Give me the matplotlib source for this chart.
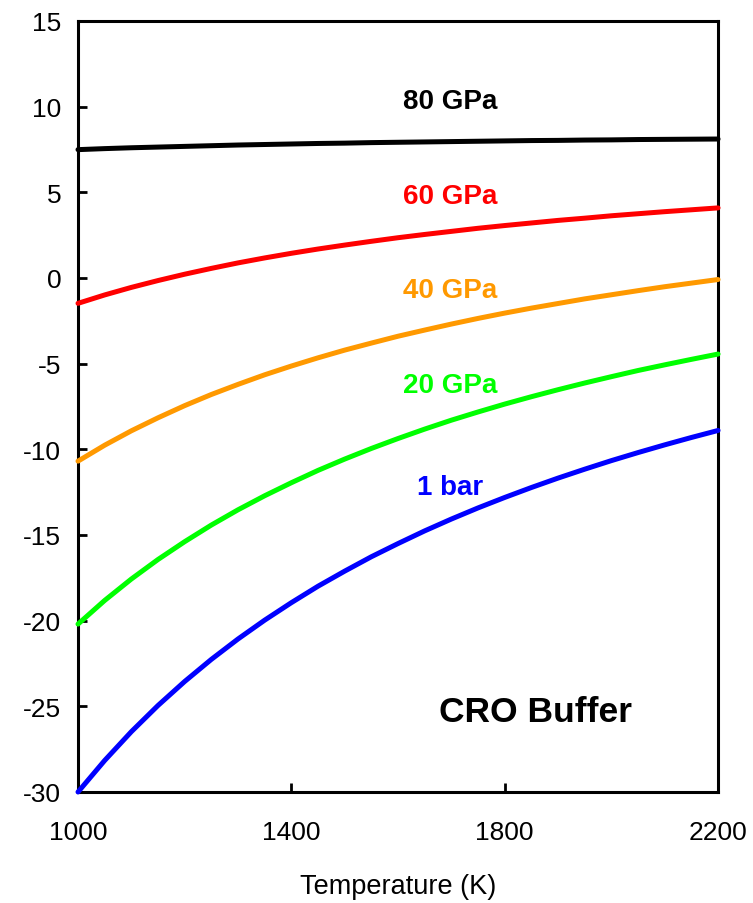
import numpy as np
import matplotlib.pyplot as plt

plt.rcParams['font.family'] = ['Liberation Sans', 'DejaVu Sans']
plt.rcParams['axes.unicode_minus'] = False

# temperature grid (K) and log fO2 for the CRO buffer at each pressure
temp = list(range(1000, 2201, 50))
p_1bar = [-30.00, -28.16, -26.48, -24.95, -23.55, -22.26, -21.07, -19.97, -18.95, -17.99,
          -17.11, -16.27, -15.50, -14.76, -14.07, -13.42, -12.81, -12.23, -11.68, -11.16,
          -10.66, -10.19, -9.74, -9.31, -8.90]
p_20 = [-20.20, -18.82, -17.57, -16.43, -15.39, -14.42, -13.53, -12.71, -11.95, -11.23,
        -10.57, -9.95, -9.37, -8.82, -8.30, -7.82, -7.36, -6.93, -6.52, -6.13,
        -5.76, -5.40, -5.07, -4.75, -4.44]
p_40 = [-10.69, -9.76, -8.92, -8.16, -7.45, -6.80, -6.21, -5.65, -5.14, -4.66,
        -4.21, -3.80, -3.40, -3.04, -2.69, -2.36, -2.05, -1.76, -1.49, -1.22,
        -0.98, -0.74, -0.51, -0.30, -0.09]
p_60 = [-1.48, -0.99, -0.55, -0.15, 0.22, 0.56, 0.88, 1.17, 1.44, 1.69,
        1.92, 2.14, 2.35, 2.54, 2.72, 2.90, 3.06, 3.21, 3.36, 3.49,
        3.63, 3.75, 3.87, 3.98, 4.09]
p_80 = [7.49, 7.55, 7.60, 7.64, 7.68, 7.72, 7.76, 7.79, 7.82, 7.85,
        7.87, 7.90, 7.92, 7.94, 7.96, 7.98, 8.00, 8.02, 8.03, 8.05,
        8.06, 8.08, 8.09, 8.10, 8.11]

labels = ['1 bar', '20 GPa', '40 GPa', '60 GPa', '80 GPa']
colors = ['#0000FF', '#00FF00', '#FF9900', '#FF0000', '#000000']
series = [p_1bar, p_20, p_40, p_60, p_80]
label_y = [-12.2, -6.25, -0.7, 4.8, 10.3]

fig = plt.figure(figsize=(7.53, 9.04), dpi=100)
ax = fig.add_axes([0.1036, 0.1228, 0.85, 0.8529])

for vals, c in zip(series, colors):
    ax.plot(temp, vals, color=c, lw=3.6, solid_capstyle='round',
            solid_joinstyle='round', clip_on=False, zorder=3)

for txt, c, y in zip(labels, colors, label_y):
    ax.text(1697, y, txt, color=c, fontsize=20, fontweight='bold', ha='center', va='center')

ax.text(1857, -25.3, 'CRO Buffer', fontsize=25.5, fontweight='bold', ha='center', va='center')

ax.set_xlim(1000, 2200)
ax.set_ylim(-30, 15)
ax.set_xticks([1000, 1400, 1800, 2200])
ax.set_yticks(np.arange(-30, 16, 5))
ax.tick_params(axis='both', direction='in', length=6.5, width=2, labelsize=19)
ax.tick_params(axis='x', pad=20)
ax.tick_params(axis='y', pad=12)
for s in ax.spines.values():
    s.set_linewidth(2.2)

ax.set_xlabel('Temperature (K)', fontsize=19.5, labelpad=21)

fig.savefig('out.png', dpi=100)
